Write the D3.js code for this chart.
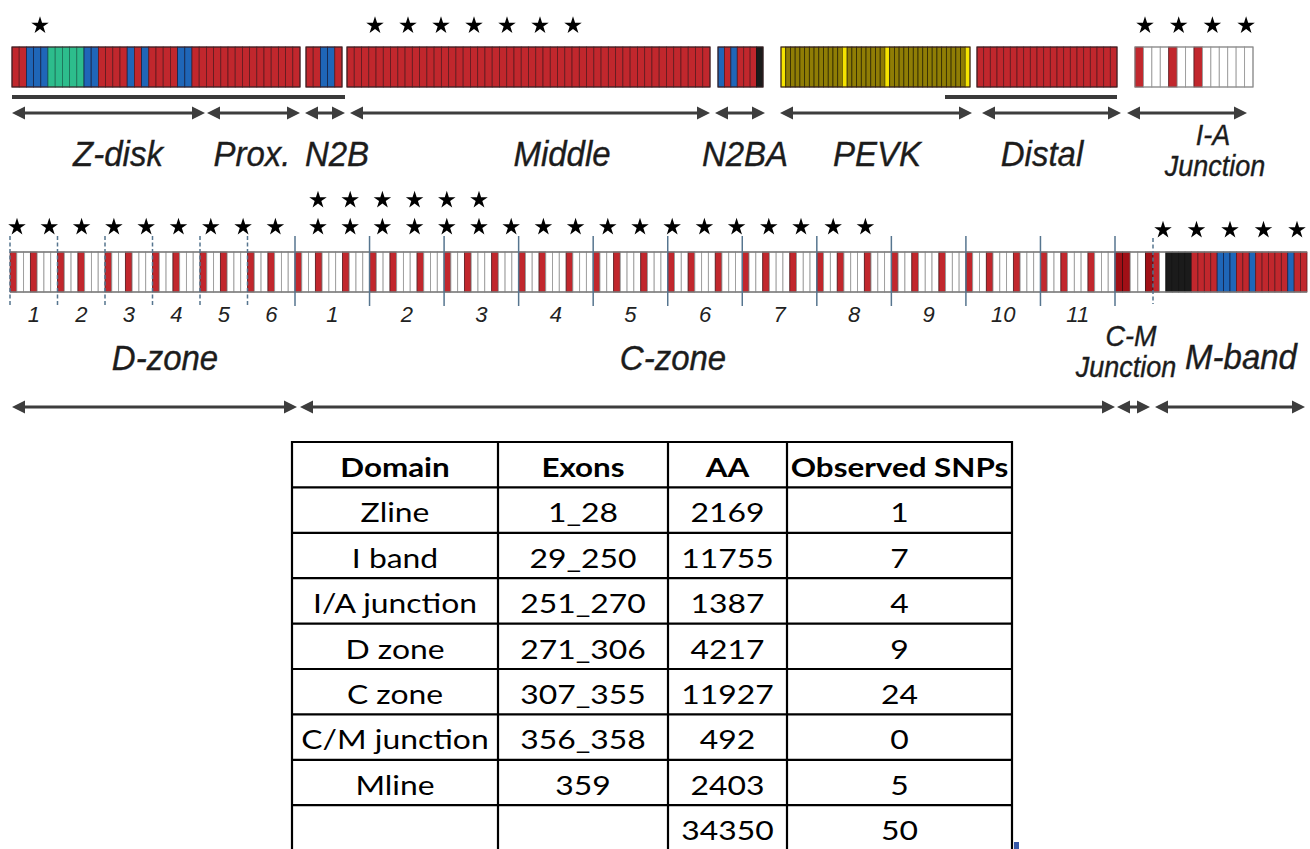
<!DOCTYPE html>
<html>
<head>
<meta charset="utf-8">
<script src="https://cdn.jsdelivr.net/npm/d3@7"></script>
<style>
  html, body { margin: 0; padding: 0; background: #fff; }
  svg { display: block; }
</style>
</head>
<body>
<svg id="chart" width="1310" height="849"></svg>
<script>
// ---------------- data ----------------
// Cell codes: R red (Ig), B blue, G green, K black, Y yellow, O olive (PEVK), W white (Fn), D dark red
const iBandSegmentNames = ["Z-disk + Prox.", "N2B", "Middle", "N2BA", "PEVK", "Distal", "I-A junction"];
const iBandSegmentCells = [
  "RRBBBGGGGGBBRRRRBRBRRRRBBRRRRRRRRRRRRRRR",
  "RRBBR",
  "RRRRRRRRRRRRRRRRRRRRRRRRRRRRRRRRRRRRRRRRRRRRRRRRRR",
  "BRBRRRK",
  "YOOOOOOOOOOOOYOOOOOOOOYOOOOOOOOOOOOOOOOY",
  "RRRRRRRRRRRRRRRRRRRRR",
  "RWWWRWWRWWWWWW"
];
const topDomainLabels = ["Z-disk", "Prox.", "N2B", "Middle", "N2BA", "PEVK", "Distal"];
const iaLabelLines = ["I-A", "Junction"];

const dZoneSuperRepeats = ["RWWRWWW", "RWWRWWW", "RWWRWWW", "RWWRWWW", "RWWRWWW", "RWWRWWW"];
const cZoneSuperRepeats = ["RWWRWWWRWWW", "RWWRWWWRWWW", "RWWRWWWRWWW", "RWWRWWWRWWW",
                           "RWWRWWWRWWW", "RWWRWWWRWWW", "RWWRWWWRWWW", "RWWRWWWRWWW",
                           "RWWRWWWRWWW", "RWWRWWWRWWW", "RWWRWWWRWWW"];
const cmJunctionCells = "DDWWD";
const mBandCells = "RWKKKKRRRRBBBRRBRRRRRBRR";
const bottomDomainLabels = ["D-zone", "C-zone", ["C-M", "Junction"], "M-band"];

// table
const tableHeader = ["Domain", "Exons", "AA", "Observed SNPs"];
const tableDomains = ["Zline", "I band", "I/A junction", "D zone", "C zone", "C/M junction", "Mline", ""];
const tableExons = ["1_28", "29_250", "251_270", "271_306", "307_355", "356_358", "359", ""];
const tableAA = [2169, 11755, 1387, 4217, 11927, 492, 2403, 34350];
const tableSNPs = [1, 7, 4, 9, 24, 0, 5, 50];

// ---------------- styles ----------------
const fillOf = { R: "#c1272d", B: "#1f66b8", G: "#2dbd8c", K: "#1b1b1b", Y: "#f5e400",
                 O: "#8f7d05", W: "#ffffff", D: "#a10f16" };
const edgeOf = { R: "#5e1a1f", B: "#14244a", G: "#1b6e55", K: "#111111", Y: "#6b6000",
                 O: "#2f2900", W: "#9b9b9b", D: "#3a0a0d" };
const ink = "#1c1c1c";
const arrowInk = "#3d3d3d";
const dividerInk = "#56758f";

const svg = d3.select("#chart");
const star = d3.symbol().type(d3.symbolStar).size(95);

// ---------------- helpers ----------------
function drawCells(g, cells, x0, x1, y, h, opts = {}) {
  const band = d3.scaleBand().domain(d3.range(cells.length)).range([x0, x1]);
  const bw = band.bandwidth();
  g.selectAll(null)
    .data(cells.split(""))
    .join("rect")
    .attr("x", (d, i) => band(i) + (opts.narrowRed && d === "R" ? bw * 0.02 : 0))
    .attr("y", y)
    .attr("width", d => opts.narrowRed && d === "R" ? bw * 0.96 : bw)
    .attr("height", h)
    .attr("fill", d => fillOf[d])
    .attr("stroke", d => edgeOf[d])
    .attr("stroke-width", d => d === "W" ? 0.9 : 0.8);
}

function drawArrow(g, x0, x1, y) {
  const head = 13, half = 6.5;
  g.append("line")
    .attr("x1", x0 + head - 1).attr("x2", x1 - head + 1)
    .attr("y1", y).attr("y2", y)
    .attr("stroke", arrowInk).attr("stroke-width", 3);
  g.append("path")
    .attr("d", `M${x0},${y}L${x0 + head},${y - half}L${x0 + head},${y + half}Z`)
    .attr("fill", arrowInk);
  g.append("path")
    .attr("d", `M${x1},${y}L${x1 - head},${y - half}L${x1 - head},${y + half}Z`)
    .attr("fill", arrowInk);
}

function drawStars(g, count, x0, step, y, perRow = 99, rowStep = -27) {
  g.selectAll(null)
    .data(d3.range(count))
    .join("path")
    .attr("d", star)
    .attr("fill", "#000")
    .attr("transform", i => `translate(${x0 + (i % perRow) * step},${y + Math.floor(i / perRow) * rowStep})`);
}

// italic domain labels, drawn slightly tall
function label(g, text, x, y, size) {
  g.append("text")
    .attr("transform", `translate(${x},${y}) scale(1,1.08)`)
    .attr("text-anchor", "middle")
    .attr("font-family", "'Liberation Sans', Arial, sans-serif")
    .attr("font-style", "italic")
    .attr("font-size", size)
    .attr("fill", ink)
    .attr("stroke", ink)
    .attr("stroke-width", 0.35)
    .text(text);
}

// ---------------- top row: Z-disk and I-band ----------------
const topRow = svg.append("g");
const topExtents = [[12, 300], [306, 342], [347, 710], [718, 763], [781, 970], [977, 1117], [1135, 1253]];
iBandSegmentCells.forEach((cells, k) => {
  const [a, b] = topExtents[k];
  const seg = topRow.append("g");
  drawCells(seg, cells, a, b, 47, 40);
  seg.append("rect").attr("x", a).attr("y", 47).attr("width", b - a).attr("height", 40)
    .attr("fill", "none")
    .attr("stroke", k === 6 ? "#8a8a8a" : "#3a2226")
    .attr("stroke-width", 1);
});

// bars under the bar row
[[12, 345], [945, 1117]].forEach(([a, b]) => {
  topRow.append("rect").attr("x", a).attr("y", 95).attr("width", b - a).attr("height", 4)
    .attr("fill", "#3a3a3a");
});

// domain arrows
const topArrows = [[12, 205], [207, 300], [305, 345], [350, 710], [715, 765], [780, 972], [982, 1121], [1127, 1247]];
topArrows.forEach(([a, b]) => drawArrow(topRow, a, b, 113));

// domain labels
const topLabelX = [118, 252, 337, 562, 745, 877, 1042];
topDomainLabels.forEach((t, i) => label(topRow, t, topLabelX[i], 166, 33));
label(topRow, iaLabelLines[0], 1213, 145, 27);
label(topRow, iaLabelLines[1], 1215, 176, 27);

// SNP stars
drawStars(topRow, tableSNPs[0], 40, 33, 25.5);
drawStars(topRow, tableSNPs[1], 375, 33, 25.5);
drawStars(topRow, tableSNPs[2], 1145, 33.7, 25.5);

// ---------------- second row: A-band ----------------
const bandRow = svg.append("g");
const barY = 252, barH = 40;

function drawZone(repeats, x0, x1) {
  const rep = d3.scaleBand().domain(d3.range(repeats.length)).range([x0, x1]);
  repeats.forEach((cells, i) => {
    drawCells(bandRow, cells, rep(i), rep(i) + rep.bandwidth(), barY, barH, { narrowRed: true });
  });
  return rep;
}
const dRep = drawZone(dZoneSuperRepeats, 10, 295);
const cRep = drawZone(cZoneSuperRepeats, 295, 1115);
drawCells(bandRow, cmJunctionCells, 1115, 1153, barY, barH);
drawCells(bandRow, mBandCells, 1153, 1307, barY, barH);

// bar outline
[barY, barY + barH].forEach(y => {
  bandRow.append("line").attr("x1", 10).attr("x2", 1307).attr("y1", y).attr("y2", y)
    .attr("stroke", "#7d7d7d").attr("stroke-width", 1.3);
});

// super-repeat dividers
dZoneSuperRepeats.forEach((_, i) => {
  bandRow.append("line").attr("x1", dRep(i)).attr("x2", dRep(i)).attr("y1", 236).attr("y2", 306)
    .attr("stroke", dividerInk).attr("stroke-width", 1.5).attr("stroke-dasharray", "4,2.5");
});
cZoneSuperRepeats.concat([""]).forEach((_, i) => {
  const x = i < cZoneSuperRepeats.length ? cRep(i) : cRep.range()[1];
  bandRow.append("line").attr("x1", x).attr("x2", x).attr("y1", 236).attr("y2", 306)
    .attr("stroke", dividerInk).attr("stroke-width", 1.5);
});
bandRow.append("line").attr("x1", 1153).attr("x2", 1153).attr("y1", 238).attr("y2", 304)
  .attr("stroke", dividerInk).attr("stroke-width", 1.5).attr("stroke-dasharray", "4,2.5");

// super-repeat numbers
function repeatNumbers(repeats, rep) {
  repeats.forEach((_, i) => {
    bandRow.append("text")
      .attr("x", rep(i) + rep.bandwidth() / 2).attr("y", 322)
      .attr("text-anchor", "middle")
      .attr("font-family", "'Liberation Sans', Arial, sans-serif")
      .attr("font-style", "italic").attr("font-size", 22)
      .attr("fill", "#222").text(i + 1);
  });
}
repeatNumbers(dZoneSuperRepeats, dRep);
repeatNumbers(cZoneSuperRepeats, cRep);

// zone labels
label(bandRow, bottomDomainLabels[0], 165, 370, 33);
label(bandRow, bottomDomainLabels[1], 673, 370, 33);
label(bandRow, bottomDomainLabels[2][0], 1131, 346, 27);
label(bandRow, bottomDomainLabels[2][1], 1126, 377, 27);
label(bandRow, bottomDomainLabels[3], 1241, 369, 33);

// zone arrows
[[12, 297], [300, 1115], [1117, 1150], [1155, 1305]].forEach(([a, b]) => drawArrow(bandRow, a, b, 407));

// SNP stars
drawStars(bandRow, tableSNPs[3], 17, 32.3, 227);
drawStars(bandRow, tableSNPs[4], 318, 32.2, 227, 18, -27);
drawStars(bandRow, tableSNPs[5], 1125, 32, 230);
drawStars(bandRow, tableSNPs[6], 1163, 33.5, 230);

// ---------------- table ----------------
const tbl = svg.append("g");
const colEdges = [292, 498, 668, 787, 1012];
const rowTop = 442, rowH = 45.4;
const rows = [tableHeader].concat(tableDomains.map((d, i) =>
  [d, tableExons[i], String(tableAA[i]), String(tableSNPs[i])]));

const yRow = d3.scaleLinear().domain([0, rows.length]).range([rowTop, rowTop + rows.length * rowH]);

rows.forEach((r, ri) => {
  r.forEach((cell, ci) => {
    if (cell === "") return;
    const cx = (colEdges[ci] + colEdges[ci + 1]) / 2;
    tbl.append("text")
      .attr("transform", `translate(${cx},${yRow(ri) + 35}) scale(${ri === 0 ? 1.23 : 1.25},1.04)`)
      .attr("text-anchor", "middle")
      .attr("font-family", "Lato, 'Open Sans', sans-serif")
      .attr("font-weight", ri === 0 ? 700 : 400)
      .attr("font-size", 25.5)
      .attr("fill", "#000")
      .text(cell);
  });
});
d3.range(rows.length + 1).forEach(i => {
  tbl.append("line").attr("x1", colEdges[0] - 1).attr("x2", colEdges[4] + 1)
    .attr("y1", yRow(i)).attr("y2", yRow(i))
    .attr("stroke", "#000").attr("stroke-width", 2.2);
});
colEdges.forEach(x => {
  tbl.append("line").attr("x1", x).attr("x2", x)
    .attr("y1", rowTop - 1).attr("y2", yRow(rows.length))
    .attr("stroke", "#000").attr("stroke-width", 2.2);
});
// selection handle at the table corner
tbl.append("rect").attr("x", 1014).attr("y", 842).attr("width", 5).attr("height", 7).attr("fill", "#3557a8");
</script>
</body>
</html>
